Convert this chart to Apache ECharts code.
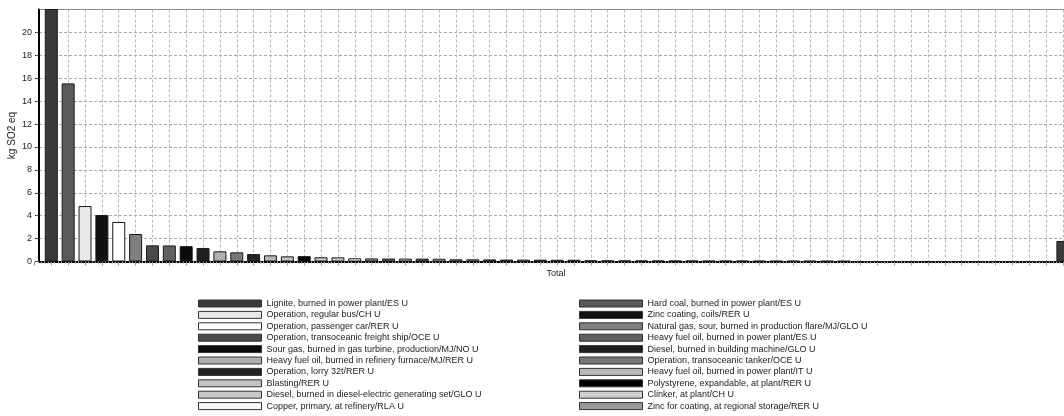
<!DOCTYPE html>
<html><head><meta charset="utf-8">
<script src="https://cdn.jsdelivr.net/npm/echarts@6/dist/echarts.min.js"></script>
<style>html,body{margin:0;padding:0;background:#fff}#c{width:1064px;height:416px}</style>
</head><body><div id="c"></div><script>
// ---- data ----
const category = ['Total'];
const yAxisName = 'kg SO2 eq';
// named processes (legend), in bar order
const processNames = [
  'Lignite, burned in power plant/ES U',
  'Hard coal, burned in power plant/ES U',
  'Operation, regular bus/CH U',
  'Zinc coating, coils/RER U',
  'Operation, passenger car/RER U',
  'Natural gas, sour, burned in production flare/MJ/GLO U',
  'Operation, transoceanic freight ship/OCE U',
  'Heavy fuel oil, burned in power plant/ES U',
  'Sour gas, burned in gas turbine, production/MJ/NO U',
  'Diesel, burned in building machine/GLO U',
  'Heavy fuel oil, burned in refinery furnace/MJ/RER U',
  'Operation, transoceanic tanker/OCE U',
  'Operation, lorry 32t/RER U',
  'Heavy fuel oil, burned in power plant/IT U',
  'Blasting/RER U',
  'Polystyrene, expandable, at plant/RER U',
  'Diesel, burned in diesel-electric generating set/GLO U',
  'Clinker, at plant/CH U',
  'Copper, primary, at refinery/RLA U',
  'Zinc for coating, at regional storage/RER U'
];
// bar values (kg SO2 eq), one per bar slot
const values = [
  24.0, 15.55, 4.84, 4.06, 3.45, 2.40, 1.41, 1.40, 1.34, 1.18,
  0.89, 0.80, 0.65, 0.54, 0.45, 0.47, 0.37, 0.36, 0.28, 0.27,
  0.26, 0.25, 0.25, 0.24, 0.19, 0.19, 0.18, 0.17, 0.16, 0.16,
  0.15, 0.15, 0.10, 0.10, 0.09, 0.09, 0.08, 0.08, 0.08, 0.07,
  0.07, 0.07, 0.06, 0.06, 0.06, 0.05, 0.05, 0.05, 0, 0,
  0, 0, 0, 0, 0, 0, 0, 0, 0, 0,
  1.79
];
// ---- styles ----
const barColors = [
  '#3a3a3a', '#5a5a5a', '#e8e8e8', '#111111', '#ffffff', '#7f7f7f', '#4a4a4a', '#606060', '#0a0a0a', '#1e1e1e',
  '#b0b0b0', '#777777', '#222222', '#b8b8b8', '#c4c4c4', '#000000', '#c8c8c8', '#d0d0d0', '#f8f8f8', '#9a9a9a',
  '#666666', '#c8c8c8', '#555555', '#cccccc', '#999999', '#aaaaaa', '#222222', '#555555', '#dddddd', '#888888',
  '#555555', '#222222', '#333333', '#777777', '#bbbbbb', '#444444', '#999999', '#222222', '#cccccc', '#666666',
  '#333333', '#aaaaaa', '#111111', '#777777', '#444444', '#bbbbbb', '#222222', '#888888', '#555555', '#555555',
  '#555555', '#555555', '#555555', '#555555', '#555555', '#555555', '#555555', '#555555', '#555555', '#555555',
  '#3a3a3a'
];
const FONT = 'Liberation Sans';
const TXT = '#222';
const pitch = 16.86, firstCenter = 51.3;
const slotCount = values.length;
const gridB = { left: firstCenter - pitch, top: 9.5, height: 252, width: (slotCount + 1) * pitch,
  outerBoundsMode: 'none', containLabel: false };

const chart = echarts.init(document.getElementById('c'), null, {renderer: 'canvas'});
const series = [];
processNames.forEach((name, i) => {
  series.push({
    type: 'bar', name, xAxisIndex: 1, yAxisIndex: 1,
    barWidth: 13, barGap: '-100%',
    data: [[i, values[i]]],
    itemStyle: { color: barColors[i], borderColor: '#1a1a1a', borderWidth: 1 },
    emphasis: { disabled: true }
  });
});
series.push({
  type: 'bar', xAxisIndex: 1, yAxisIndex: 1,
  barWidth: 13, barGap: '-100%',
  data: values.slice(processNames.length).map((v, k) => [k + processNames.length, v]),
  itemStyle: { color: p => barColors[p.dataIndex + processNames.length], borderColor: '#1a1a1a', borderWidth: 1 },
  emphasis: { disabled: true }
});

const legendCommon = {
  orient: 'vertical', top: 298, padding: 0, icon: 'rect',
  itemWidth: 63, itemHeight: 7, itemGap: 0.4,
  itemStyle: { borderColor: '#333', borderWidth: 1 },
  textStyle: { fontFamily: FONT, fontSize: 9, color: TXT, lineHeight: 11 },
  selectedMode: false
};

chart.setOption({
  animation: false,
  backgroundColor: '#fff',
  grid: [
    { left: 39, width: 1034, top: 9.5, height: 252, show: true, borderColor: '#888', borderWidth: 1,
      outerBoundsMode: 'none', containLabel: false },
    gridB
  ],
  legend: [
    Object.assign({ left: 198, data: processNames.filter((_, i) => i % 2 === 0) }, legendCommon),
    Object.assign({ left: 579, data: processNames.filter((_, i) => i % 2 === 1) }, legendCommon)
  ],
  xAxis: [
    { type: 'category', gridIndex: 0, data: category,
      axisLine: { lineStyle: { color: '#000', width: 2 } },
      axisTick: { show: false },
      axisLabel: { fontFamily: FONT, fontSize: 9, color: TXT, margin: 8 },
      splitLine: { show: false } },
    { type: 'value', gridIndex: 1, min: -1, max: slotCount, interval: 1,
      axisLine: { show: false },
      axisTick: { show: true, length: 4, lineStyle: { color: '#999' } },
      minorTick: { show: true, splitNumber: 5, length: 2, lineStyle: { color: '#aaa' } },
      axisLabel: { show: false },
      splitLine: { show: true, showMinLine: false, showMaxLine: false, lineStyle: { color: '#b8b8b8', type: [3, 2] } } }
  ],
  yAxis: [
    { type: 'value', gridIndex: 0, min: 0, max: 22, interval: 2,
      name: yAxisName, nameLocation: 'middle', nameGap: 22, nameMoveOverlap: false,
      nameTextStyle: { fontFamily: FONT, fontSize: 10, color: TXT },
      axisLine: { show: true, lineStyle: { color: '#000', width: 2 } },
      axisTick: { show: true, length: 4, lineStyle: { color: '#444' } },
      axisLabel: { fontFamily: FONT, fontSize: 9, color: TXT, margin: 7, showMaxLabel: false },
      splitLine: { show: true, showMinLine: false, showMaxLine: false, lineStyle: { color: '#a8a8a8', type: [3, 2] } } },
    { type: 'value', gridIndex: 1, min: 0, max: 22, interval: 2, show: false,
      splitLine: { show: false } }
  ],
  series
});
</script></body></html>
